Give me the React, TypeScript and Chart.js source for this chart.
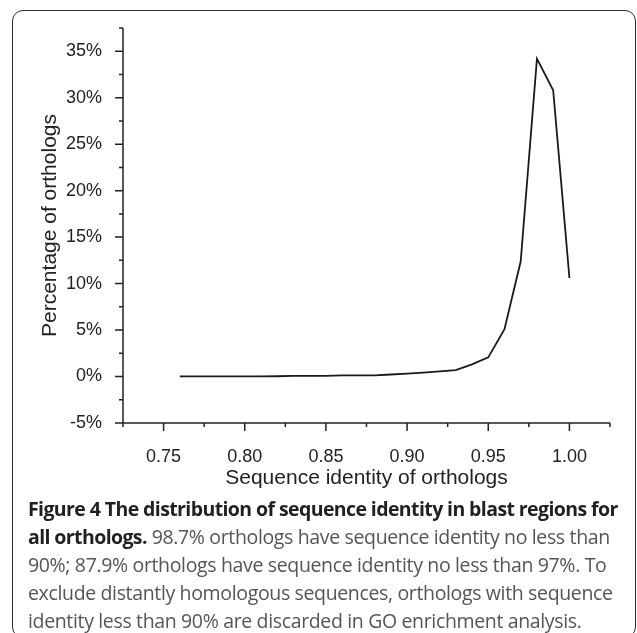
import React, { useEffect, useRef } from 'react';
import { Chart, registerables } from 'chart.js';

Chart.register(...registerables);

// Sequence identity (x) and percentage of orthologs (y, %)
const identity = [0.76, 0.77, 0.78, 0.79, 0.80, 0.81, 0.82, 0.83, 0.84, 0.85, 0.86, 0.87, 0.88, 0.89, 0.90, 0.91, 0.92, 0.93, 0.94, 0.95, 0.96, 0.97, 0.98, 0.99, 1.00];
const percent = [0.01, 0.01, 0.01, 0.02, 0.02, 0.02, 0.03, 0.07, 0.07, 0.07, 0.12, 0.12, 0.13, 0.22, 0.32, 0.42, 0.55, 0.7, 1.3, 2.06, 5.1, 12.4, 34.2, 30.8, 10.6];

const xTickValues = [0.75, 0.80, 0.85, 0.90, 0.95, 1.00];
const xMinorValues = [0.725, 0.775, 0.825, 0.875, 0.925, 0.975, 1.025];
const yTickValues = [-5, 0, 5, 10, 15, 20, 25, 30, 35];
const yMinorValues = [-2.5, 2.5, 7.5, 12.5, 17.5, 22.5, 27.5, 32.5, 37.5];

const xTitle = 'Sequence identity of orthologs';
const yTitle = 'Percentage of orthologs';

const AXIS_COLOR = '#222';
const CHART_FONT = '"Liberation Sans", Arial, sans-serif';

const axisPlugin = {
  id: 'axisDecor',
  afterDraw(chart: any) {
    const ctx = chart.ctx;
    const xs = chart.scales.x;
    const ys = chart.scales.y;
    const area = chart.chartArea;
    ctx.save();
    ctx.strokeStyle = AXIS_COLOR;
    ctx.lineWidth = 1.5;
    ctx.beginPath();
    ctx.moveTo(area.left, area.top);
    ctx.lineTo(area.left, area.bottom);
    ctx.lineTo(area.right, area.bottom);
    ctx.stroke();
    ctx.beginPath();
    xTickValues.forEach((v) => {
      const px = xs.getPixelForValue(v);
      ctx.moveTo(px, area.bottom);
      ctx.lineTo(px, area.bottom + 8);
    });
    xMinorValues.forEach((v) => {
      const px = xs.getPixelForValue(v);
      ctx.moveTo(px, area.bottom);
      ctx.lineTo(px, area.bottom + 4);
    });
    yTickValues.forEach((v) => {
      const py = ys.getPixelForValue(v);
      ctx.moveTo(area.left, py);
      ctx.lineTo(area.left - 8, py);
    });
    yMinorValues.forEach((v) => {
      const py = ys.getPixelForValue(v);
      ctx.moveTo(area.left, py);
      ctx.lineTo(area.left - 4, py);
    });
    ctx.stroke();
    ctx.fillStyle = '#222';
    ctx.font = `21px ${CHART_FONT}`;
    ctx.textAlign = 'center';
    ctx.textBaseline = 'middle';
    ctx.fillText(xTitle, (area.left + area.right) / 2, 478);
    ctx.translate(50, (area.top + area.bottom) / 2);
    ctx.rotate(-Math.PI / 2);
    ctx.fillText(yTitle, 0, 0);
    ctx.restore();
  },
};

function App() {
  const canvasRef = useRef<HTMLCanvasElement | null>(null);

  useEffect(() => {
    document.body.style.margin = '0';
    const canvas = canvasRef.current;
    if (!canvas) return;
    const chart = new Chart(canvas, {
      type: 'line',
      data: {
        datasets: [
          {
            data: identity.map((x, i) => ({ x, y: percent[i] })),
            borderColor: '#1a1a1a',
            borderWidth: 1.8,
            pointRadius: 0,
            tension: 0,
            fill: false,
          },
        ],
      },
      plugins: [axisPlugin],
      options: {
        animation: false,
        responsive: false,
        maintainAspectRatio: false,
        layout: { padding: { left: 0, top: 28, right: 27, bottom: 0 } },
        plugins: { legend: { display: false }, tooltip: { enabled: false } },
        scales: {
          x: {
            type: 'linear',
            min: 0.725,
            max: 1.025,
            grid: { display: false },
            border: { display: false },
            afterBuildTicks: (s: any) => {
              s.ticks = xTickValues.map((v) => ({ value: v }));
            },
            afterFit: (s: any) => {
              s.height = 77;
            },
            ticks: {
              padding: 15,
              color: '#222',
              font: { family: CHART_FONT, size: 18 },
              maxRotation: 0,
              autoSkip: false,
              callback: (v: any) => Number(v).toFixed(2),
            },
          },
          y: {
            type: 'linear',
            min: -5,
            max: 37.5,
            grid: { display: false },
            border: { display: false },
            afterBuildTicks: (s: any) => {
              s.ticks = yTickValues.map((v) => ({ value: v }));
            },
            afterFit: (s: any) => {
              s.width = 123;
            },
            ticks: {
              padding: 13,
              color: '#222',
              font: { family: CHART_FONT, size: 18 },
              autoSkip: false,
              callback: (v: any) => `${v}%`,
            },
          },
        },
      },
    });
    return () => chart.destroy();
  }, []);

  return (
    <div style={{ position: 'relative', width: 637, height: 633, overflow: 'hidden', background: '#fff' }}>
      <div
        style={{
          position: 'absolute',
          left: 12,
          top: 10,
          width: 622,
          height: 626,
          border: '1.5px solid #2a2a2a',
          borderRadius: 11,
        }}
      />
      <canvas ref={canvasRef} width={637} height={500} style={{ position: 'absolute', left: 0, top: 0 }} />
      <div
        style={{
          position: 'absolute',
          left: 28,
          top: 495,
          whiteSpace: 'nowrap',
          fontFamily: '"Open Sans", sans-serif',
          fontSize: 19.5,
          lineHeight: '28px',
          color: '#555',
          letterSpacing: '-0.35px',
        }}
      >
        <b style={{ color: '#231f20', letterSpacing: '-0.6px' }}>
          Figure 4 The distribution of sequence identity in blast regions for
          <br />
          all orthologs.
        </b>{' '}
        98.7% orthologs have sequence identity no less than
        <br />
        90%; 87.9% orthologs have sequence identity no less than 97%. To
        <br />
        exclude distantly homologous sequences, orthologs with sequence
        <br />
        identity less than 90% are discarded in GO enrichment analysis.
      </div>
    </div>
  );
}

export default App;
